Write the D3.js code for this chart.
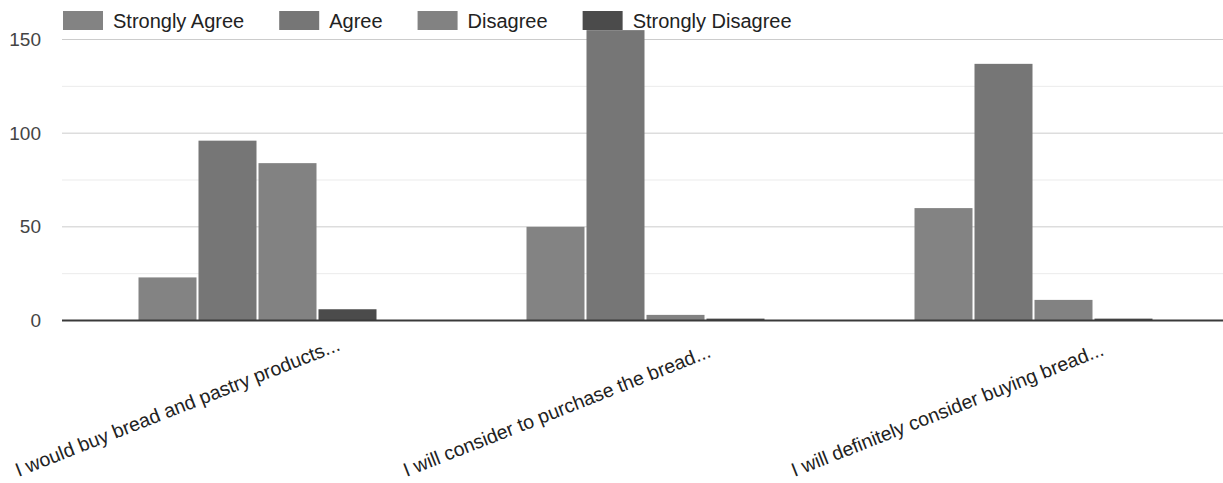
<!DOCTYPE html>
<html>
<head>
<meta charset="utf-8">
<script src="https://cdn.jsdelivr.net/npm/d3@7/dist/d3.min.js"></script>
<style>
  html, body { margin: 0; padding: 0; background: #fff; }
  svg { display: block; font-family: "Liberation Sans", Arial, sans-serif; }
</style>
</head>
<body>
<svg id="chart" width="1223" height="483"></svg>
<script>
// Survey statements (x categories)
const categories = [
  "I would buy bread and pastry products...",
  "I will consider to purchase the bread...",
  "I will definitely consider buying bread..."
];
// Response options (series)
const seriesNames = ["Strongly Agree", "Agree", "Disagree", "Strongly Disagree"];
// Counts per statement, one array per response option
const stronglyAgree    = [23, 50, 60];
const agree            = [96, 155, 137];
const disagree         = [84, 3, 11];
const stronglyDisagree = [6, 1, 1];
// Y axis ticks
const majorTicks = [0, 50, 100, 150];
const minorTicks = [25, 75, 125];

const seriesValues = [stronglyAgree, agree, disagree, stronglyDisagree];
const colors = ["#838383", "#767676", "#828282", "#4b4b4b"];

const svg = d3.select("#chart");

const plotLeft = 62, plotRight = 1223;
const y = d3.scaleLinear().domain([0, 150]).range([320.5, 39.5]);
const x = d3.scaleBand().domain(categories).range([63.5, 1227.5]).padding(0);
const xInner = d3.scaleBand().domain(seriesNames).range([-120, 120]).padding(0);

// gridlines
const grid = svg.append("g");
grid.selectAll("line.minor").data(minorTicks).join("line")
  .attr("class", "minor")
  .attr("x1", plotLeft).attr("x2", plotRight)
  .attr("y1", d => y(d)).attr("y2", d => y(d))
  .attr("stroke", "#ebebeb").attr("stroke-width", 1);
grid.selectAll("line.major").data(majorTicks.filter(d => d > 0)).join("line")
  .attr("class", "major")
  .attr("x1", plotLeft).attr("x2", plotRight)
  .attr("y1", d => y(d)).attr("y2", d => y(d))
  .attr("stroke", "#cccccc").attr("stroke-width", 1);

// y axis labels
const yAxis = d3.axisLeft(y).tickValues(majorTicks).tickSize(0).tickPadding(0);
const gy = svg.append("g").attr("transform", "translate(41,0)").call(yAxis);
gy.select(".domain").remove();
gy.selectAll("text")
  .attr("fill", "#444")
  .attr("font-size", "19px")
  .attr("font-family", "Liberation Sans, Arial, sans-serif");

// bars
const rows = [];
categories.forEach((c, ci) => {
  seriesNames.forEach((s, si) => rows.push({ cat: c, series: s, value: seriesValues[si][ci], si }));
});
svg.append("g").selectAll("rect").data(rows).join("rect")
  .attr("x", d => x(d.cat) + x.bandwidth() / 2 + xInner(d.series) + 1)
  .attr("width", xInner.bandwidth() - 2)
  .attr("y", d => y(d.value))
  .attr("height", d => y(0) - y(d.value))
  .attr("fill", d => colors[d.si]);

// baseline
svg.append("line")
  .attr("x1", plotLeft).attr("x2", plotRight)
  .attr("y1", y(0)).attr("y2", y(0))
  .attr("stroke", "#3a3a3a").attr("stroke-width", 2);

// slanted category labels
svg.append("g").selectAll("text").data(categories).join("text")
  .attr("transform", d => `translate(${x(d) + x.bandwidth() / 2 - 239},477) rotate(-21.5)`)
  .attr("text-anchor", "start")
  .attr("font-size", "19.5px")
  .attr("fill", "#222")
  .text(d => d);

// legend
const legend = svg.append("g");
let lx = 63;
seriesNames.forEach((s, i) => {
  legend.append("rect")
    .attr("x", lx).attr("y", 11).attr("width", 40).attr("height", 19)
    .attr("fill", colors[i]);
  const t = legend.append("text")
    .attr("x", lx + 50).attr("y", 27.5)
    .attr("font-size", "20px").attr("fill", "#222")
    .text(s);
  lx = lx + 50 + t.node().getComputedTextLength() + 35;
});
</script>
</body>
</html>
